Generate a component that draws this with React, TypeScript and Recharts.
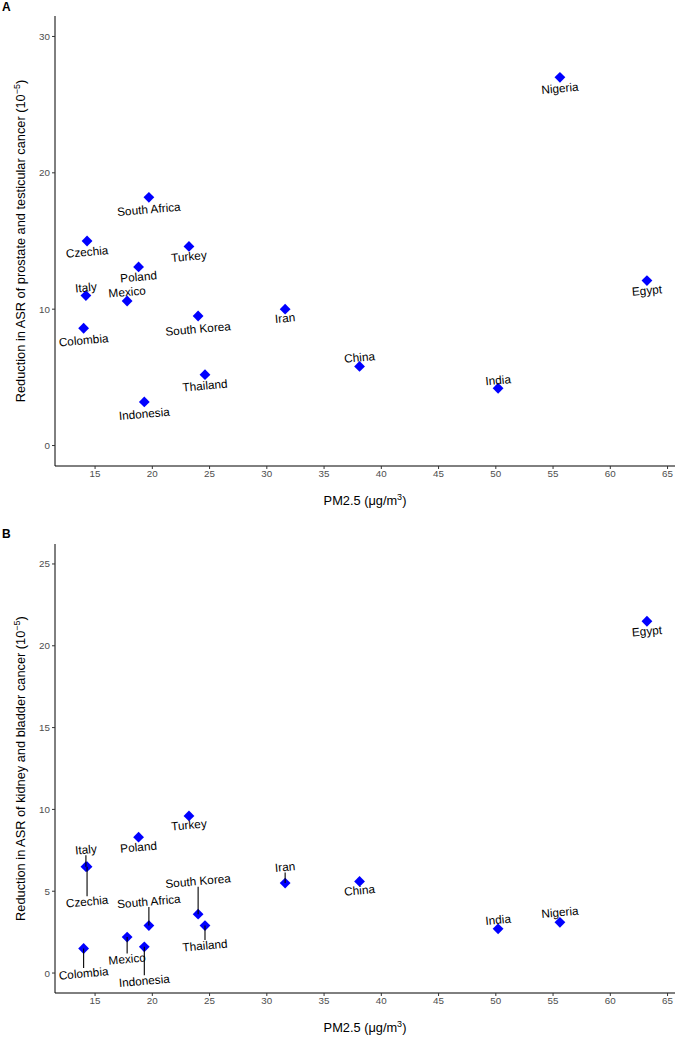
import React from 'react';
import { ScatterChart, Scatter, XAxis, YAxis } from 'recharts';

const countries = ['Nigeria', 'Egypt', 'South Africa', 'Czechia', 'Turkey', 'Poland', 'Italy', 'Mexico', 'South Korea', 'Iran', 'Colombia', 'China', 'India', 'Thailand', 'Indonesia'];
const pm25 = [55.6, 63.2, 19.7, 14.3, 23.2, 18.8, 14.2, 17.8, 24.0, 31.6, 14.0, 38.1, 50.2, 24.6, 19.3];
const prostateTesticular = [27.0, 12.1, 18.2, 15.0, 14.6, 13.1, 11.0, 10.6, 9.5, 10.0, 8.6, 5.8, 4.2, 5.2, 3.2];
const kidneyBladder = [3.1, 21.5, 2.9, 6.5, 9.6, 8.3, 6.5, 2.2, 3.6, 5.5, 1.5, 5.6, 2.7, 2.9, 1.6];

const xTicks = [15, 20, 25, 30, 35, 40, 45, 50, 55, 60, 65];
const yTicksA = [0, 10, 20, 30];
const yTicksB = [0, 5, 10, 15, 20, 25];

// vertical label offset (px) from the point, as placed by ggrepel in the original
const labelShiftA: Record<string, number> = {
    Nigeria: 11, Egypt: 10, 'South Africa': 12, Czechia: 11, Turkey: 10, Poland: 10, Italy: -8, Mexico: -9,
    'South Korea': 13, Iran: 9, Colombia: 12, China: -9, India: -8, Thailand: 11, Indonesia: 12,
};
const labelShiftB: Record<string, number> = {
    Nigeria: -10, Egypt: 10, 'South Africa': -24, Czechia: 35, Turkey: 9, Poland: 10, Italy: -17, Mexico: 22,
    'South Korea': -33, Iran: -16, Colombia: 25, China: 9, India: -9, Thailand: 20, Indonesia: 34,
};

const FONT = '"Liberation Sans", Arial, Helvetica, sans-serif';
const TICK = { fontSize: 9.8, fill: '#4d4d4d', fontFamily: FONT };

const rowsA = countries.map((name, i) => ({ name, x: pm25[i], y: prostateTesticular[i] }));
const rowsB = countries.map((name, i) => ({ name, x: pm25[i], y: kidneyBladder[i] }));

const Diamond = (props: any) => {
    const { cx, cy } = props;
    const r = 5.4;
    return <polygon points={`${cx},${cy - r} ${cx + r},${cy} ${cx},${cy + r} ${cx - r},${cy}`} fill="#0000ff" />;
};

const makeLabel = (shift: Record<string, number>) => (props: any) => {
    const { cx, cy, payload } = props;
    const dy = shift[payload.name] ?? 10;
    const ly = cy + dy;
    const long = Math.abs(dy) > 14;
    return (
        <g>
            {long && <line x1={cx} y1={cy} x2={cx} y2={ly - Math.sign(dy) * 5.5} stroke="#000" strokeWidth={1.1} />}
            <text x={cx} y={ly} textAnchor="middle" dominantBaseline="central" fontSize={11.8} fontFamily={FONT}
                fill="#000" transform={`rotate(-5 ${cx} ${ly})`}>
                {payload.name}
            </text>
        </g>
    );
};

const XTitle = (props: any) => {
    const { viewBox } = props;
    const cx = viewBox.x + viewBox.width / 2;
    return (
        <text x={cx} y={viewBox.y + 39} textAnchor="middle" fontSize={12.8} fontFamily={FONT} fill="#000">
            PM2.5 (μg/m<tspan dy={-5} fontSize={9}>3</tspan><tspan dy={5}>)</tspan>
        </text>
    );
};

const YTitle = ({ viewBox, text }: any) => {
    const cy = viewBox.y + viewBox.height / 2;
    const x = 25;
    return (
        <text x={x} y={cy} textAnchor="middle" fontSize={12.8} fontFamily={FONT} fill="#000"
            transform={`rotate(-90 ${x} ${cy})`}>
            {text}<tspan dy={-5} fontSize={9}>−5</tspan><tspan dy={5}>)</tspan>
        </text>
    );
};

function Panel({ rows, yDomain, yTicks, shift, title, height, top }: any) {
    return (
        <ScatterChart width={675} height={height} margin={{ top, right: 0, bottom: 0, left: 0 }}>
            <XAxis type="number" dataKey="x" domain={[11.5, 65.65]} ticks={xTicks} allowDataOverflow
                height={44} tick={TICK} tickSize={3} tickMargin={1}
                axisLine={{ stroke: '#000', strokeWidth: 1 }} tickLine={{ stroke: '#333' }}
                label={<XTitle />} />
            <YAxis type="number" dataKey="y" domain={yDomain} ticks={yTicks} allowDataOverflow
                width={55} tick={TICK} tickSize={3} tickMargin={2}
                axisLine={{ stroke: '#000', strokeWidth: 1 }} tickLine={{ stroke: '#333' }}
                label={<YTitle text={title} />} />
            <Scatter data={rows} shape={Diamond} isAnimationActive={false} />
            <Scatter data={rows} shape={makeLabel(shift)} isAnimationActive={false} />
        </ScatterChart>
    );
}

export default function App() {
    return (
        <div style={{ position: 'absolute', left: 0, top: 0, width: 675, height: 1037, background: '#fff' }}>
            <div style={{ position: 'absolute', left: 2, top: 0, font: `bold 12px ${FONT}` }}>A</div>
            <div style={{ position: 'absolute', left: 2, top: 527, font: `bold 12px ${FONT}` }}>B</div>
            <div style={{ position: 'absolute', left: 0, top: 0 }}>
                <Panel rows={rowsA} yDomain={[-1.5, 31.5]} yTicks={yTicksA} shift={labelShiftA}
                    title="Reduction in ASR of prostate and testicular cancer (10" height={510} top={16} />
            </div>
            <div style={{ position: 'absolute', left: 0, top: 510 }}>
                <Panel rows={rowsB} yDomain={[-1.22, 26.22]} yTicks={yTicksB} shift={labelShiftB}
                    title="Reduction in ASR of kidney and bladder cancer (10" height={527} top={34} />
            </div>
        </div>
    );
}
